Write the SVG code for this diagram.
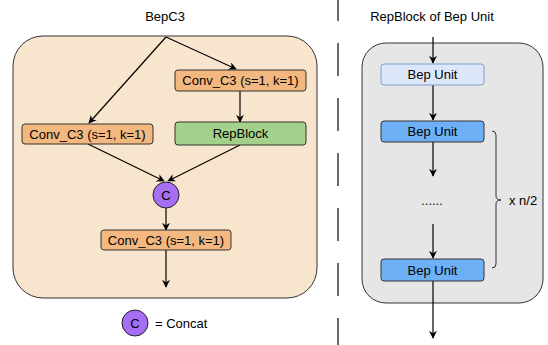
<svg xmlns="http://www.w3.org/2000/svg" width="548" height="345" viewBox="0 0 548 345">
<defs>
<marker id="ah" viewBox="0 0 10 10" refX="9" refY="5" markerWidth="8" markerHeight="8" markerUnits="userSpaceOnUse" orient="auto">
<path d="M0,0 L10,5 L0,10 L3,5 Z" fill="#000"/>
</marker>
<style>
text{font-family:"Liberation Sans",Arial,sans-serif;font-size:13px;fill:#000;text-anchor:middle}
.conv{fill:#F3B880;stroke:#333;stroke-width:1}
.rep{fill:#A3D08A;stroke:#333;stroke-width:1}
.cc{fill:#A56EF3;stroke:#222;stroke-width:1}
.bl{fill:#DCE8FA;stroke:#7C9FD0;stroke-width:1}
.bd{fill:#6DB0F5;stroke:#333;stroke-width:1}
.edge{fill:none;stroke:#000;stroke-width:1.2;marker-end:url(#ah)}
</style>
</defs>
<rect width="548" height="345" fill="#fff"/>
<line x1="338" y1="0" x2="338" y2="345" stroke="#6a6a6a" stroke-width="2" stroke-dasharray="33 22" stroke-dashoffset="12"/>
<text x="165" y="21">BepC3</text>
<text x="432" y="21">RepBlock of Bep Unit</text>
<g id="bepc3-container"><rect x="13" y="36" width="304" height="262" rx="30" fill="#F8E5CD" stroke="#333" stroke-width="1"/></g>
<g id="repblock-container"><rect x="362" y="43" width="181" height="260" rx="24" fill="#E6E6E6" stroke="#333" stroke-width="1"/></g>
<g id="connectors">
<line class="edge" x1="166" y1="37" x2="89" y2="123"/>
<line class="edge" x1="166" y1="37" x2="236" y2="69"/>
<line class="edge" x1="240" y1="91" x2="240" y2="122"/>
<line class="edge" x1="88" y1="144" x2="164" y2="181"/>
<line class="edge" x1="240" y1="145" x2="168" y2="181"/>
<line class="edge" x1="166" y1="208" x2="166" y2="230"/>
<line class="edge" x1="166" y1="250" x2="166" y2="287"/>
<line class="edge" x1="433" y1="37" x2="433" y2="63"/>
<line class="edge" x1="433" y1="85" x2="433" y2="120"/>
<line class="edge" x1="433" y1="142" x2="433" y2="176"/>
<line class="edge" x1="433" y1="224" x2="433" y2="258"/>
<line class="edge" x1="433" y1="281" x2="433" y2="338"/>
</g>
<g id="conv-right"><rect class="conv" x="175" y="70" width="131" height="21" rx="3"/><text x="240.5" y="85">Conv_C3 (s=1, k=1)</text></g>
<g id="conv-left"><rect class="conv" x="22" y="124" width="131" height="20" rx="3"/><text x="87.5" y="138.5">Conv_C3 (s=1, k=1)</text></g>
<g id="repblock"><rect class="rep" x="175" y="122" width="131" height="23" rx="3"/><text x="240.5" y="138">RepBlock</text></g>
<g id="concat"><circle class="cc" cx="166" cy="195" r="13"/><text x="166" y="199.5">C</text></g>
<g id="conv-bottom"><rect class="conv" x="101" y="230" width="130" height="20" rx="3"/><text x="166" y="244.5">Conv_C3 (s=1, k=1)</text></g>
<g id="legend"><circle class="cc" cx="135" cy="323" r="13"/><text x="135" y="327.5">C</text><text x="155" y="327.5" style="text-anchor:start">= Concat</text></g>
<g id="bep-unit-1"><rect class="bl" x="381" y="64" width="103" height="21" rx="3"/><text x="432.5" y="79">Bep Unit</text></g>
<g id="bep-unit-2"><rect class="bd" x="381" y="121" width="103" height="21" rx="3"/><text x="432.5" y="136">Bep Unit</text></g>
<g id="dots"><text x="432" y="205">......</text></g>
<g id="bep-unit-3"><rect class="bd" x="381" y="259" width="103" height="22" rx="3"/><text x="432.5" y="274.5">Bep Unit</text></g>
<g id="brace">
<path d="M492,131 Q496,131 496,135 L496,196 Q496,200 501,200 Q496,200 496,204 L496,264 Q496,268 492,268" fill="none" stroke="#333" stroke-width="1"/>
<text x="509" y="205" style="text-anchor:start">x n/2</text>
</g>
</svg>
